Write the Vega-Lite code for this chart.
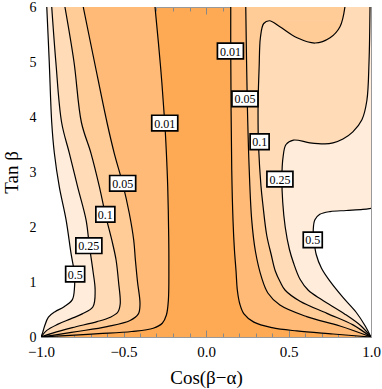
{
  "$schema": "https://vega.github.io/schema/vega-lite/v6.json",
  "width": 330,
  "height": 330,
  "autosize": {"type": "none"},
  "padding": {"left": 41, "top": 7, "right": 11, "bottom": 52},
  "background": "white",
  "config": {"view": {"stroke": "#999999", "fill": "#FEAA55"}},
  "datasets": {
    "f": [
      {"k":"L01","x":-0.309,"y":6,"x2":-1},{"k":"L01","x":-0.275,"y":4.9,"x2":-1},{"k":"L01","x":-0.25,"y":3.9,"x2":-1},{"k":"L01","x":-0.24,"y":3.34,"x2":-1},{"k":"L01","x":-0.232,"y":2.73,"x2":-1},{"k":"L01","x":-0.226,"y":1.82,"x2":-1},{"k":"L01","x":-0.225,"y":1.3,"x2":-1},{"k":"L01","x":-0.228,"y":0.67,"x2":-1},{"k":"L01","x":-0.24,"y":0.4,"x2":-1},{"k":"L01","x":-0.265,"y":0.25,"x2":-1},{"k":"L01","x":-0.32,"y":0.16,"x2":-1},{"k":"L01","x":-0.45,"y":0.1,"x2":-1},{"k":"L01","x":-0.65,"y":0.06,"x2":-1},{"k":"L01","x":-0.85,"y":0.025,"x2":-1},{"k":"L01","x":-1,"y":0,"x2":-1},
      {"k":"L05","x":-0.744,"y":6,"x2":-1},{"k":"L05","x":-0.676,"y":5,"x2":-1},{"k":"L05","x":-0.6,"y":3.9,"x2":-1},{"k":"L05","x":-0.556,"y":3.34,"x2":-1},{"k":"L05","x":-0.505,"y":2.79,"x2":-1},{"k":"L05","x":-0.465,"y":2.25,"x2":-1},{"k":"L05","x":-0.438,"y":1.76,"x2":-1},{"k":"L05","x":-0.428,"y":1.4,"x2":-1},{"k":"L05","x":-0.415,"y":1.0,"x2":-1},{"k":"L05","x":-0.4,"y":0.6,"x2":-1},{"k":"L05","x":-0.41,"y":0.42,"x2":-1},{"k":"L05","x":-0.46,"y":0.3,"x2":-1},{"k":"L05","x":-0.6,"y":0.19,"x2":-1},{"k":"L05","x":-0.78,"y":0.1,"x2":-1},{"k":"L05","x":-0.93,"y":0.03,"x2":-1},{"k":"L05","x":-1,"y":0,"x2":-1},
      {"k":"L1","x":-0.855,"y":6,"x2":-1},{"k":"L1","x":-0.8,"y":5,"x2":-1},{"k":"L1","x":-0.755,"y":3.9,"x2":-1},{"k":"L1","x":-0.697,"y":3.34,"x2":-1},{"k":"L1","x":-0.646,"y":2.73,"x2":-1},{"k":"L1","x":-0.61,"y":2.23,"x2":-1},{"k":"L1","x":-0.566,"y":1.7,"x2":-1},{"k":"L1","x":-0.545,"y":1.4,"x2":-1},{"k":"L1","x":-0.53,"y":1.0,"x2":-1},{"k":"L1","x":-0.52,"y":0.6,"x2":-1},{"k":"L1","x":-0.535,"y":0.45,"x2":-1},{"k":"L1","x":-0.58,"y":0.36,"x2":-1},{"k":"L1","x":-0.66,"y":0.28,"x2":-1},{"k":"L1","x":-0.81,"y":0.17,"x2":-1},{"k":"L1","x":-0.93,"y":0.07,"x2":-1},{"k":"L1","x":-1,"y":0,"x2":-1},
      {"k":"L25","x":-0.935,"y":6,"x2":-1},{"k":"L25","x":-0.91,"y":5,"x2":-1},{"k":"L25","x":-0.875,"y":3.9,"x2":-1},{"k":"L25","x":-0.828,"y":3.34,"x2":-1},{"k":"L25","x":-0.778,"y":2.73,"x2":-1},{"k":"L25","x":-0.727,"y":2.13,"x2":-1},{"k":"L25","x":-0.707,"y":1.66,"x2":-1},{"k":"L25","x":-0.685,"y":1.2,"x2":-1},{"k":"L25","x":-0.672,"y":0.85,"x2":-1},{"k":"L25","x":-0.685,"y":0.55,"x2":-1},{"k":"L25","x":-0.75,"y":0.42,"x2":-1},{"k":"L25","x":-0.82,"y":0.33,"x2":-1},{"k":"L25","x":-0.9,"y":0.23,"x2":-1},{"k":"L25","x":-0.965,"y":0.12,"x2":-1},{"k":"L25","x":-1,"y":0,"x2":-1},
      {"k":"L5","x":-0.965,"y":6,"x2":-1},{"k":"L5","x":-0.95,"y":5,"x2":-1},{"k":"L5","x":-0.935,"y":3.9,"x2":-1},{"k":"L5","x":-0.919,"y":3.34,"x2":-1},{"k":"L5","x":-0.889,"y":2.73,"x2":-1},{"k":"L5","x":-0.848,"y":2.13,"x2":-1},{"k":"L5","x":-0.818,"y":1.52,"x2":-1},{"k":"L5","x":-0.798,"y":1.16,"x2":-1},{"k":"L5","x":-0.797,"y":0.9,"x2":-1},{"k":"L5","x":-0.81,"y":0.68,"x2":-1},{"k":"L5","x":-0.86,"y":0.55,"x2":-1},{"k":"L5","x":-0.915,"y":0.46,"x2":-1},{"k":"L5","x":-0.955,"y":0.36,"x2":-1},{"k":"L5","x":-0.978,"y":0.2,"x2":-1},{"k":"L5","x":-0.99,"y":0.08,"x2":-1},{"k":"L5","x":-1,"y":0,"x2":-1},
      {"k":"R01","x":0.15,"y":6,"x2":1},{"k":"R01","x":0.15,"y":5.2,"x2":1},{"k":"R01","x":0.156,"y":3.04,"x2":1},{"k":"R01","x":0.164,"y":2.1,"x2":1},{"k":"R01","x":0.172,"y":1.6,"x2":1},{"k":"R01","x":0.182,"y":1.2,"x2":1},{"k":"R01","x":0.19,"y":0.85,"x2":1},{"k":"R01","x":0.205,"y":0.6,"x2":1},{"k":"R01","x":0.23,"y":0.42,"x2":1},{"k":"R01","x":0.29,"y":0.27,"x2":1},{"k":"R01","x":0.4,"y":0.17,"x2":1},{"k":"R01","x":0.55,"y":0.11,"x2":1},{"k":"R01","x":0.77,"y":0.055,"x2":1},{"k":"R01","x":1,"y":0,"x2":1},
      {"k":"R05","x":0.241,"y":6,"x2":1},{"k":"R05","x":0.25,"y":4.31,"x2":1},{"k":"R05","x":0.262,"y":3.04,"x2":1},{"k":"R05","x":0.277,"y":2.13,"x2":1},{"k":"R05","x":0.3,"y":1.55,"x2":1},{"k":"R05","x":0.338,"y":1.07,"x2":1},{"k":"R05","x":0.375,"y":0.8,"x2":1},{"k":"R05","x":0.448,"y":0.58,"x2":1},{"k":"R05","x":0.61,"y":0.37,"x2":1},{"k":"R05","x":0.812,"y":0.2,"x2":1},{"k":"R05","x":1,"y":0,"x2":1},
      {"k":"R1a","x":0.385,"y":5.75,"x2":1},{"k":"R1a","x":0.35,"y":5.7,"x2":1},{"k":"R1a","x":0.33,"y":5.45,"x2":1},{"k":"R1a","x":0.322,"y":4.9,"x2":1},{"k":"R1a","x":0.316,"y":4.3,"x2":1},{"k":"R1a","x":0.316,"y":3.76,"x2":1},{"k":"R1a","x":0.318,"y":3.5,"x2":1},{"k":"R1a","x":0.333,"y":2.75,"x2":1},{"k":"R1a","x":0.345,"y":2.4,"x2":1},{"k":"R1a","x":0.368,"y":1.85,"x2":1},{"k":"R1a","x":0.395,"y":1.5,"x2":1},{"k":"R1a","x":0.42,"y":1.2,"x2":1},{"k":"R1a","x":0.45,"y":1.0,"x2":1},{"k":"R1a","x":0.48,"y":0.85,"x2":1},{"k":"R1a","x":0.57,"y":0.65,"x2":1},{"k":"R1a","x":0.733,"y":0.43,"x2":1},{"k":"R1a","x":0.891,"y":0.22,"x2":1},{"k":"R1a","x":1,"y":0,"x2":1},
      {"k":"R1b","x":0.842,"y":6,"x2":1},{"k":"R1b","x":0.812,"y":5.64,"x2":1},{"k":"R1b","x":0.752,"y":5.44,"x2":1},{"k":"R1b","x":0.661,"y":5.345,"x2":1},
      {"k":"P1","x":0.661,"y":5.345,"x2":0.661},{"k":"P1","x":0.552,"y":5.44,"x2":0.752},{"k":"P1","x":0.448,"y":5.64,"x2":0.812},{"k":"P1","x":0.385,"y":5.75,"x2":0.821},
      {"k":"R25a","x":0.53,"y":3.58,"x2":1},{"k":"R25a","x":0.485,"y":3.5,"x2":1},{"k":"R25a","x":0.467,"y":3.27,"x2":1},{"k":"R25a","x":0.46,"y":2.9,"x2":1},{"k":"R25a","x":0.465,"y":2.45,"x2":1},{"k":"R25a","x":0.48,"y":2.0,"x2":1},{"k":"R25a","x":0.505,"y":1.6,"x2":1},{"k":"R25a","x":0.53,"y":1.35,"x2":1},{"k":"R25a","x":0.57,"y":1.05,"x2":1},{"k":"R25a","x":0.62,"y":0.85,"x2":1},{"k":"R25a","x":0.7,"y":0.68,"x2":1},{"k":"R25a","x":0.84,"y":0.42,"x2":1},{"k":"R25a","x":0.94,"y":0.2,"x2":1},{"k":"R25a","x":1,"y":0,"x2":1},
      {"k":"R25b","x":0.994,"y":6,"x2":1},{"k":"R25b","x":0.988,"y":5,"x2":1},{"k":"R25b","x":0.975,"y":4.3,"x2":1},{"k":"R25b","x":0.945,"y":3.95,"x2":1},{"k":"R25b","x":0.89,"y":3.73,"x2":1},{"k":"R25b","x":0.83,"y":3.6,"x2":1},{"k":"R25b","x":0.77,"y":3.53,"x2":1},{"k":"R25b","x":0.72,"y":3.51,"x2":1},
      {"k":"P25","x":0.72,"y":3.51,"x2":0.72},{"k":"P25","x":0.63,"y":3.53,"x2":0.77},{"k":"P25","x":0.53,"y":3.58,"x2":0.813},
      {"k":"R5","x":1,"y":2.34,"x2":1},{"k":"R5","x":0.95,"y":2.32,"x2":1},{"k":"R5","x":0.85,"y":2.3,"x2":1},{"k":"R5","x":0.752,"y":2.28,"x2":1},{"k":"R5","x":0.69,"y":2.23,"x2":1},{"k":"R5","x":0.66,"y":2.13,"x2":1},{"k":"R5","x":0.65,"y":1.95,"x2":1},{"k":"R5","x":0.655,"y":1.75,"x2":1},{"k":"R5","x":0.668,"y":1.5,"x2":1},{"k":"R5","x":0.7,"y":1.25,"x2":1},{"k":"R5","x":0.75,"y":1.02,"x2":1},{"k":"R5","x":0.83,"y":0.72,"x2":1},{"k":"R5","x":0.91,"y":0.45,"x2":1},{"k":"R5","x":0.965,"y":0.2,"x2":1},{"k":"R5","x":1,"y":0,"x2":1}
    ],
    "s": [
      {"k":"R1","x":0.842,"y":6},{"k":"R1","x":0.812,"y":5.64},{"k":"R1","x":0.752,"y":5.44},{"k":"R1","x":0.661,"y":5.345},{"k":"R1","x":0.552,"y":5.44},{"k":"R1","x":0.448,"y":5.64},{"k":"R1","x":0.385,"y":5.75},{"k":"R1","x":0.35,"y":5.7},{"k":"R1","x":0.33,"y":5.45},{"k":"R1","x":0.322,"y":4.9},{"k":"R1","x":0.316,"y":4.3},{"k":"R1","x":0.316,"y":3.76},{"k":"R1","x":0.318,"y":3.5},{"k":"R1","x":0.333,"y":2.75},{"k":"R1","x":0.345,"y":2.4},{"k":"R1","x":0.368,"y":1.85},{"k":"R1","x":0.395,"y":1.5},{"k":"R1","x":0.42,"y":1.2},{"k":"R1","x":0.45,"y":1.0},{"k":"R1","x":0.48,"y":0.85},{"k":"R1","x":0.57,"y":0.65},{"k":"R1","x":0.733,"y":0.43},{"k":"R1","x":0.891,"y":0.22},{"k":"R1","x":1,"y":0},
      {"k":"R25","x":0.994,"y":6},{"k":"R25","x":0.988,"y":5},{"k":"R25","x":0.975,"y":4.3},{"k":"R25","x":0.945,"y":3.95},{"k":"R25","x":0.89,"y":3.73},{"k":"R25","x":0.83,"y":3.6},{"k":"R25","x":0.77,"y":3.53},{"k":"R25","x":0.72,"y":3.51},{"k":"R25","x":0.63,"y":3.53},{"k":"R25","x":0.53,"y":3.58},{"k":"R25","x":0.485,"y":3.5},{"k":"R25","x":0.467,"y":3.27},{"k":"R25","x":0.46,"y":2.9},{"k":"R25","x":0.465,"y":2.45},{"k":"R25","x":0.48,"y":2.0},{"k":"R25","x":0.505,"y":1.6},{"k":"R25","x":0.53,"y":1.35},{"k":"R25","x":0.57,"y":1.05},{"k":"R25","x":0.62,"y":0.85},{"k":"R25","x":0.7,"y":0.68},{"k":"R25","x":0.84,"y":0.42},{"k":"R25","x":0.94,"y":0.2},{"k":"R25","x":1,"y":0}
    ],
    "lb": [
      {"t":"0.01","x":-0.25,"y":3.89},{"t":"0.05","x":-0.505,"y":2.795},{"t":"0.1","x":-0.61,"y":2.23},{"t":"0.25","x":-0.71,"y":1.66},{"t":"0.5","x":-0.793,"y":1.145},
      {"t":"0.01","x":0.148,"y":5.2},{"t":"0.05","x":0.236,"y":4.33},{"t":"0.1","x":0.325,"y":3.55},{"t":"0.25","x":0.448,"y":2.87},{"t":"0.5","x":0.647,"y":1.765}
    ]
  },
  "resolve": {"axis": {"x": "independent", "y": "independent"}},
  "layer": [
    {
      "data": {"name": "f"},
      "encoding": {
        "y": {"field": "y", "type": "quantitative", "scale": {"domain": [0, 6], "nice": false, "zero": false},
          "axis": {"orient": "left", "values": [0,0.2,0.4,0.6,0.8,1,1.2,1.4,1.6,1.8,2,2.2,2.4,2.6,2.8,3,3.2,3.4,3.6,3.8,4,4.2,4.4,4.6,4.8,5,5.2,5.4,5.6,5.8,6],
            "labelExpr": "abs(datum.value-round(datum.value))<0.001 ? format(datum.value,'.0f') : ''",
            "tickSize": {"condition": {"test": "abs(datum.value-round(datum.value))<0.001", "value": -7}, "value": -4},
            "tickColor": "#888888", "domainColor": "#999999", "grid": false, "labelOverlap": false, "labelBound": false, "labelFlush": false,
            "labelFont": "Liberation Serif", "labelFontSize": 14, "labelColor": "#000000", "labelPadding": 12,
            "title": "Tan β", "titleFont": "Liberation Serif", "titleFontSize": 19, "titleFontWeight": "normal", "titleColor": "#000000", "titlePadding": 8}},
        "x": {"field": "x", "type": "quantitative", "stack": null, "scale": {"domain": [-1, 1], "nice": false, "zero": false},
          "axis": {"orient": "bottom", "values": [-1,-0.9,-0.8,-0.7,-0.6,-0.5,-0.4,-0.3,-0.2,-0.1,0,0.1,0.2,0.3,0.4,0.5,0.6,0.7,0.8,0.9,1],
            "labelExpr": "abs(datum.value*2-round(datum.value*2))<0.001 ? format(datum.value,'.1f') : ''",
            "tickSize": {"condition": {"test": "abs(datum.value*2-round(datum.value*2))<0.001", "value": -7}, "value": -4},
            "tickColor": "#888888", "domainColor": "#999999", "grid": false, "labelOverlap": false, "labelBound": false, "labelFlush": false,
            "labelFont": "Liberation Serif", "labelFontSize": 15, "labelColor": "#000000", "labelPadding": 14,
            "title": "Cos(β−α)", "titleFont": "Liberation Serif", "titleFontSize": 19, "titleFontWeight": "normal", "titleColor": "#000000", "titlePadding": 6}},
        "x2": {"field": "x2"}
      },
      "layer": [
        {"transform": [{"filter": {"field": "k", "oneOf": ["L01", "R01"]}}], "mark": {"type": "area", "orient": "horizontal", "interpolate": "catmull-rom", "color": "#FEBA76", "clip": true}, "encoding": {"detail": {"field": "k"}}},
        {"transform": [{"filter": {"field": "k", "oneOf": ["L05", "R05"]}}], "mark": {"type": "area", "orient": "horizontal", "interpolate": "catmull-rom", "color": "#FFCB96", "clip": true}, "encoding": {"detail": {"field": "k"}}},
        {"transform": [{"filter": {"field": "k", "oneOf": ["L1", "R1a", "R1b"]}}], "mark": {"type": "area", "orient": "horizontal", "interpolate": "catmull-rom", "color": "#FFDBB7", "clip": true}, "encoding": {"detail": {"field": "k"}}},
        {"transform": [{"filter": {"field": "k", "oneOf": ["P1"]}}], "mark": {"type": "area", "orient": "horizontal", "interpolate": "catmull-rom", "color": "#FFCB96", "clip": true}, "encoding": {"detail": {"field": "k"}}},
        {"transform": [{"filter": {"field": "k", "oneOf": ["L25", "R25a", "R25b"]}}], "mark": {"type": "area", "orient": "horizontal", "interpolate": "catmull-rom", "color": "#FFECDA", "clip": true}, "encoding": {"detail": {"field": "k"}}},
        {"transform": [{"filter": {"field": "k", "oneOf": ["P25"]}}], "mark": {"type": "area", "orient": "horizontal", "interpolate": "catmull-rom", "color": "#FFDBB7", "clip": true}, "encoding": {"detail": {"field": "k"}}},
        {"transform": [{"filter": {"field": "k", "oneOf": ["L5", "R5"]}}], "mark": {"type": "area", "orient": "horizontal", "interpolate": "catmull-rom", "color": "#FFFFFF", "clip": true}, "encoding": {"detail": {"field": "k"}}}
      ]
    },
    {
      "data": {"name": "f"},
      "transform": [{"filter": {"field": "k", "oneOf": ["L01", "L05", "L1", "L25", "L5", "R01", "R05", "R5"]}}],
      "mark": {"type": "line", "color": "#000000", "strokeWidth": 1.2, "interpolate": "catmull-rom", "clip": true},
      "encoding": {
        "x": {"field": "x", "type": "quantitative", "scale": {"domain": [-1, 1], "nice": false, "zero": false},
          "axis": {"orient": "top", "values": [-1,-0.9,-0.8,-0.7,-0.6,-0.5,-0.4,-0.3,-0.2,-0.1,0,0.1,0.2,0.3,0.4,0.5,0.6,0.7,0.8,0.9,1], "labels": false, "title": null,
            "tickSize": {"condition": {"test": "abs(datum.value*2-round(datum.value*2))<0.001", "value": -7}, "value": -4},
            "tickColor": "#888888", "domainColor": "#999999", "grid": false}},
        "y": {"field": "y", "type": "quantitative", "scale": {"domain": [0, 6], "nice": false, "zero": false},
          "axis": {"orient": "right", "values": [0,0.2,0.4,0.6,0.8,1,1.2,1.4,1.6,1.8,2,2.2,2.4,2.6,2.8,3,3.2,3.4,3.6,3.8,4,4.2,4.4,4.6,4.8,5,5.2,5.4,5.6,5.8,6], "labels": false, "title": null,
            "tickSize": {"condition": {"test": "abs(datum.value-round(datum.value))<0.001", "value": -7}, "value": -4},
            "tickColor": "#888888", "domainColor": "#999999", "grid": false}},
        "detail": {"field": "k"},
        "order": {"value": null}
      }
    },
    {
      "data": {"name": "s"},
      "mark": {"type": "line", "color": "#000000", "strokeWidth": 1.2, "interpolate": "catmull-rom", "clip": true},
      "encoding": {
        "x": {"field": "x", "type": "quantitative", "axis": null},
        "y": {"field": "y", "type": "quantitative", "axis": null},
        "detail": {"field": "k"},
        "order": {"value": null}
      }
    },
    {
      "data": {"name": "lb"},
      "transform": [{"filter": "length(datum.t) == 4"}],
      "mark": {"type": "point", "shape": "M-1,-0.6H1V0.6H-1Z", "size": 676, "filled": true, "fill": "#FFFFFF", "stroke": "#000000", "strokeWidth": 1.7, "opacity": 1},
      "encoding": {
        "x": {"field": "x", "type": "quantitative", "axis": null},
        "y": {"field": "y", "type": "quantitative", "axis": null}
      }
    },
    {
      "data": {"name": "lb"},
      "transform": [{"filter": "length(datum.t) == 3"}],
      "mark": {"type": "point", "shape": "M-1,-0.82H1V0.82H-1Z", "size": 361, "filled": true, "fill": "#FFFFFF", "stroke": "#000000", "strokeWidth": 1.7, "opacity": 1},
      "encoding": {
        "x": {"field": "x", "type": "quantitative", "axis": null},
        "y": {"field": "y", "type": "quantitative", "axis": null}
      }
    },
    {
      "data": {"name": "lb"},
      "mark": {"type": "text", "font": "Liberation Serif", "fontSize": 12, "color": "#000000", "align": "center", "baseline": "middle", "dy": 0.5},
      "encoding": {
        "x": {"field": "x", "type": "quantitative", "axis": null},
        "y": {"field": "y", "type": "quantitative", "axis": null},
        "text": {"field": "t"}
      }
    }
  ]
}
